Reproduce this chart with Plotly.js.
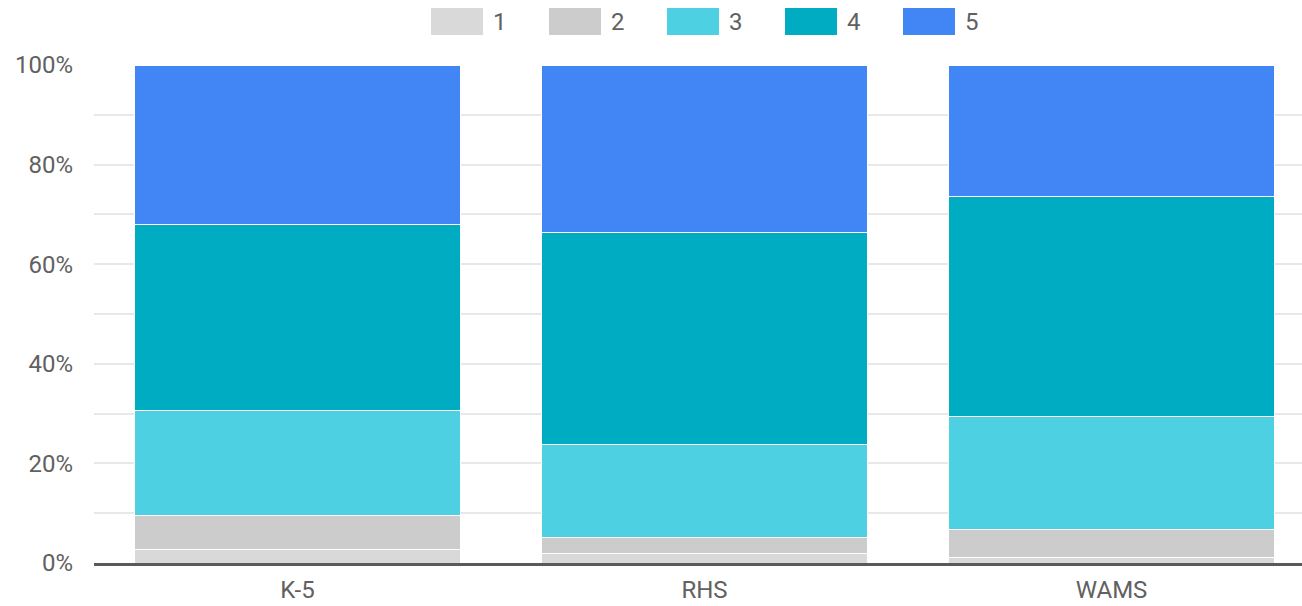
<!DOCTYPE html>
<html>
<head>
<meta charset="utf-8">
<script src="https://cdn.plot.ly/plotly-3.0.1.min.js"></script>
<style>html,body{margin:0;padding:0;background:#fff;}#chart{width:1302px;height:606px;}</style>
</head>
<body>
<div id="chart"></div>
<script>
const categories = ["K-5", "RHS", "WAMS"];
const seriesNames = ["1", "2", "3", "4", "5"];
const series1 = [2.75, 1.95, 1.15];
const series2 = [6.85, 3.25, 5.65];
const series3 = [21.0, 18.5, 22.55];
const series4 = [37.3, 42.6, 44.25];
const series5 = [32.1, 33.7, 26.4];
const colors = ["#d9d9d9", "#cccccc", "#4dd0e1", "#00acc1", "#4285f4"];
const yTickVals = [0, 20, 40, 60, 80, 100];
const yTickText = ["0%", "20%", "40%", "60%", "80%", "100%"];

const allSeries = [series1, series2, series3, series4, series5];
const textColor = "#616161";
const font = {family: "Roboto, sans-serif", size: 24, color: textColor};

const traces = allSeries.map((vals, i) => ({
  type: "bar",
  name: seriesNames[i],
  x: categories,
  y: vals,
  marker: {color: colors[i], line: {color: "#ffffff", width: 1}},
  hoverinfo: "none",
  showlegend: false
}));

// custom legend (large swatches) built from series names/colors
const shapes = [];
const annotations = [];
const legStart = 431, legStep = 118, swW = 52, swTop = 8, swBot = 35;
seriesNames.forEach((n, i) => {
  const x0 = legStart + i * legStep;
  shapes.push({
    type: "rect", xref: "paper", yref: "paper",
    x0: (x0 - 94) / 1208, x1: (x0 + swW - 94) / 1208,
    y0: (606 - 43 - swBot) / 498, y1: (606 - 43 - swTop) / 498,
    fillcolor: colors[i], line: {width: 0}, layer: "above"
  });
  annotations.push({
    xref: "paper", yref: "paper",
    x: (x0 + 60 - 94) / 1208, y: (606 - 43 - 21.5) / 498,
    xanchor: "left", yanchor: "middle",
    text: n, showarrow: false,
    font: {family: "Roboto, sans-serif", size: 24, color: textColor}
  });
});

const layout = {
  width: 1302, height: 606,
  margin: {l: 94, r: 0, t: 65, b: 43, pad: 0},
  paper_bgcolor: "#ffffff", plot_bgcolor: "#ffffff",
  barmode: "stack",
  bargap: 0.2,
  font: font,
  showlegend: false,
  xaxis: {
    type: "category",
    range: [-0.5, 2.468],
    showgrid: false,
    showline: true, linecolor: "#5a5a5a", linewidth: 2.5,
    ticks: "", tickfont: {family: "Roboto, sans-serif", size: 24, color: textColor},
    ticklabelstandoff: 4,
    fixedrange: true
  },
  yaxis: {
    range: [0, 100],
    tickvals: yTickVals, ticktext: yTickText,
    showgrid: true, gridcolor: "#e8e8e8", gridwidth: 2,
    minor: {dtick: 10, tick0: 0, showgrid: true, gridcolor: "#e8e8e8", gridwidth: 2},
    zeroline: false, showline: false, ticks: "",
    ticklabelstandoff: 20,
    tickfont: font,
    fixedrange: true
  },
  shapes: shapes,
  annotations: annotations
};

Plotly.newPlot("chart", traces, layout, {displayModeBar: false, staticPlot: true});
</script>
</body>
</html>
